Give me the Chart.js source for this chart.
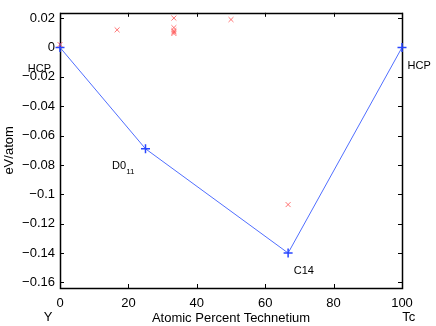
<!DOCTYPE html>
<html>
<head>
<meta charset="utf-8">
<script src="https://cdn.jsdelivr.net/npm/chart.js@4/dist/chart.umd.min.js"></script>
<style>
  html, body { margin: 0; padding: 0; background: #fff; }
  #wrap { width: 436px; height: 326px; }
</style>
</head>
<body>
<div id="wrap"><canvas id="chart"></canvas></div>
<script>
// Данные графика
const hullX = [0, 25, 66.7, 100];
const hullY = [0, -0.069, -0.14, 0];

const otherX = [0, 16.7, 33.3, 33.3, 33.3, 33.3, 33.3, 50, 66.7];
const otherY = [0.002, 0.012, 0.02, 0.0135, 0.0115, 0.0105, 0.0095, 0.019, -0.107];

const xTicks = [0, 20, 40, 60, 80, 100];
const yTicks = [0.02, 0, -0.02, -0.04, -0.06, -0.08, -0.1, -0.12, -0.14, -0.16];

// Подписи структур (в координатах данных)
const phaseLabels = ['HCP', 'D0', 'C14', 'HCP'];
const phaseSubs = ['', '11', '', ''];
const phaseLabelX = [-6.0, 18.5, 71.3, 105];
const phaseLabelY = [-0.0148, -0.081, -0.1524, -0.0128];

// Элементы на концах оси x
const endLabels = ['Y', 'Tc'];
const endLabelX = [-3.5, 102];

const FONT = 'Liberation Sans, Arial, Helvetica, sans-serif';

function fmtY(v) {
    if (Math.abs(v) < 1e-9) return '0';
    const s = String(Math.round(v * 100) / 100);
    return s.replace('-', '\u2212');
}

// Рамка, внутренние засечки и подписи
const matlabPlugin = {
    id: 'matlab',
    beforeDatasetsDraw(chart) {
        const ctx = chart.ctx;
        const a = chart.chartArea;
        const xs = chart.scales.x;
        const ys = chart.scales.y;
        ctx.save();
        ctx.strokeStyle = '#000';
        ctx.lineWidth = 1;
        ctx.beginPath();
        xTicks.forEach(v => {
            const px = Math.round(xs.getPixelForValue(v)) + 0.5;
            ctx.moveTo(px, a.bottom); ctx.lineTo(px, a.bottom - 4);
            ctx.moveTo(px, a.top); ctx.lineTo(px, a.top + 4);
        });
        yTicks.forEach(v => {
            const py = Math.round(ys.getPixelForValue(v)) + 0.5;
            ctx.moveTo(a.left, py); ctx.lineTo(a.left + 4, py);
            ctx.moveTo(a.right, py); ctx.lineTo(a.right - 4, py);
        });
        ctx.stroke();
        ctx.lineWidth = 1.5;
        ctx.strokeRect(Math.round(a.left) + 0.5, Math.round(a.top) + 0.5,
            Math.round(a.right - a.left), Math.round(a.bottom - a.top));
        ctx.restore();
    },
    afterDatasetsDraw(chart) {
        const ctx = chart.ctx;
        const a = chart.chartArea;
        const xs = chart.scales.x;
        const ys = chart.scales.y;
        ctx.save();
        ctx.fillStyle = '#000';
        ctx.textBaseline = 'middle';
        phaseLabels.forEach((t, i) => {
            const px = xs.getPixelForValue(phaseLabelX[i]);
            const py = ys.getPixelForValue(phaseLabelY[i]);
            ctx.font = '11px ' + FONT;
            const w = ctx.measureText(t).width;
            ctx.font = '8px ' + FONT;
            const ws = phaseSubs[i] ? ctx.measureText(phaseSubs[i]).width : 0;
            const x0 = px - (w + ws) / 2;
            ctx.font = '11px ' + FONT;
            ctx.textAlign = 'left';
            ctx.fillText(t, x0, py);
            if (phaseSubs[i]) {
                ctx.font = '8px ' + FONT;
                ctx.fillText(phaseSubs[i], x0 + w, py + 5);
            }
        });
        ctx.font = '13px ' + FONT;
        ctx.textAlign = 'center';
        endLabels.forEach((t, i) => {
            ctx.fillText(t, xs.getPixelForValue(endLabelX[i]), a.bottom + 29);
        });
        ctx.restore();
    }
};

new Chart(document.getElementById('chart'), {
    type: 'scatter',
    data: {
        datasets: [
            {
                label: 'other',
                data: otherX.map((x, i) => ({ x, y: otherY[i] })),
                showLine: false,
                clip: false,
                pointStyle: 'crossRot',
                pointRadius: 3.5,
                borderWidth: 1,
                borderColor: 'rgba(255, 70, 70, 0.75)',
                backgroundColor: 'rgba(255, 70, 70, 0.75)'
            },
            {
                label: 'hull',
                data: hullX.map((x, i) => ({ x, y: hullY[i] })),
                showLine: true,
                clip: false,
                borderColor: 'rgb(80, 110, 255)',
                backgroundColor: 'rgb(40, 70, 255)',
                borderWidth: 1,
                pointStyle: 'cross',
                pointRadius: 4.5,
                pointBorderWidth: 1.5,
                pointBorderColor: 'rgb(40, 70, 255)'
            }
        ]
    },
    options: {
        responsive: true,
        maintainAspectRatio: false,
        animation: false,
        layout: { padding: { left: 0, right: 34, top: 10, bottom: 0 } },
        plugins: { legend: { display: false }, tooltip: { enabled: false } },
        scales: {
            x: {
                type: 'linear',
                min: 0,
                max: 100,
                afterBuildTicks: s => { s.ticks = xTicks.map(v => ({ value: v })); },
                afterFit: s => { s.height = 38; },
                grid: { display: false, drawTicks: false },
                border: { display: false },
                ticks: {
                    padding: 8,
                    color: '#000',
                    font: { family: FONT, size: 13 },
                    maxRotation: 0
                },
                title: {
                    display: true,
                    text: 'Atomic Percent Technetium',
                    color: '#000',
                    font: { family: FONT, size: 13 },
                    padding: { top: 0, bottom: 0 }
                }
            },
            y: {
                type: 'linear',
                min: -0.1638,
                max: 0.0236,
                afterBuildTicks: s => { s.ticks = yTicks.map(v => ({ value: v })); },
                afterFit: s => { s.width = 60; },
                grid: { display: false, drawTicks: false },
                border: { display: false },
                ticks: {
                    padding: 5,
                    color: '#000',
                    font: { family: FONT, size: 13 },
                    callback: v => fmtY(v)
                },
                title: {
                    display: true,
                    text: 'eV/atom',
                    color: '#000',
                    font: { family: FONT, size: 13 },
                    padding: { top: 2, bottom: 0 }
                }
            }
        }
    },
    plugins: [matlabPlugin]
});
</script>
</body>
</html>
